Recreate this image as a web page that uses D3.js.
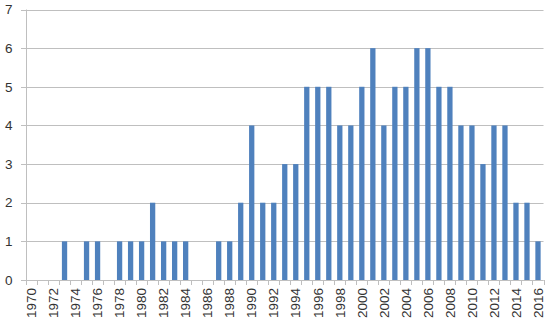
<!DOCTYPE html>
<html>
<head>
<meta charset="utf-8">
<script src="https://cdn.jsdelivr.net/npm/d3@7"></script>
<style>
  html, body { margin: 0; padding: 0; background: #ffffff; }
  svg { display: block; }
  text { font-family: "Liberation Sans", Arial, sans-serif; fill: #333333; }
</style>
</head>
<body>
<svg id="chart" width="550" height="324"></svg>
<script>
const years = d3.range(1970, 2017).map(String);
const counts = [0,0,0,1,0,1,1,0,1,1,1,2,1,1,1,0,0,1,1,2,4,2,2,3,3,5,5,5,4,4,5,6,4,5,5,6,6,5,5,4,4,3,4,4,2,2,1];
const yTicks = [0,1,2,3,4,5,6,7];

const svg = d3.select("#chart");
const margin = {left: 26, right: 6.5, top: 9.5, bottom: 44};
const W = 550, H = 324;
const x = d3.scaleBand().domain(years).range([margin.left, W - margin.right]).paddingInner(0.52).paddingOuter(0.26);
const xb = d3.scaleBand().domain(years).range([margin.left, W - margin.right]);
const y = d3.scaleLinear().domain([0, 7]).range([H - margin.bottom, margin.top]);

// gridlines
svg.append("g").selectAll("line").data(yTicks).join("line")
  .attr("x1", margin.left - 5).attr("x2", W - margin.right)
  .attr("y1", d => Math.round(y(d)) + 0.5).attr("y2", d => Math.round(y(d)) + 0.5)
  .attr("stroke", "#bfbfbf").attr("stroke-width", 1);

// y labels
svg.append("g").selectAll("text").data(yTicks).join("text")
  .attr("x", 12.5).attr("y", d => y(d)).attr("dy", "0.35em")
  .attr("text-anchor", "end").attr("font-size", 13.5).text(d => d);

// y axis line
svg.append("line").attr("x1", margin.left + 0.5).attr("x2", margin.left + 0.5)
  .attr("y1", margin.top).attr("y2", y(0)).attr("stroke", "#bfbfbf");

// bars
svg.append("g").selectAll("rect").data(counts).join("rect")
  .attr("x", (d, i) => x(years[i]))
  .attr("width", x.bandwidth())
  .attr("y", d => y(d))
  .attr("height", d => y(0) - y(d))
  .attr("fill", "#4f81bd");

// x axis ticks at band boundaries
const bounds = years.map(yv => xb(yv)).concat([W - margin.right]);
svg.append("g").selectAll("line").data(bounds).join("line")
  .attr("x1", d => Math.round(d) + 0.5).attr("x2", d => Math.round(d) + 0.5)
  .attr("y1", y(0)).attr("y2", y(0) + 5)
  .attr("stroke", "#bfbfbf");
svg.append("line").attr("x1", margin.left).attr("x2", W - margin.right)
  .attr("y1", Math.round(y(0)) + 0.5).attr("y2", Math.round(y(0)) + 0.5)
  .attr("stroke", "#bfbfbf");

// x labels (every other year)
svg.append("g").selectAll("text").data(years.filter((d, i) => i % 2 === 0)).join("text")
  .attr("transform", d => `translate(${xb(d) + xb.bandwidth() / 2},${y(0) + 8}) rotate(-90)`)
  .attr("text-anchor", "end").attr("dy", "0.35em").attr("font-size", 13.5)
  .text(d => d);
</script>
</body>
</html>
